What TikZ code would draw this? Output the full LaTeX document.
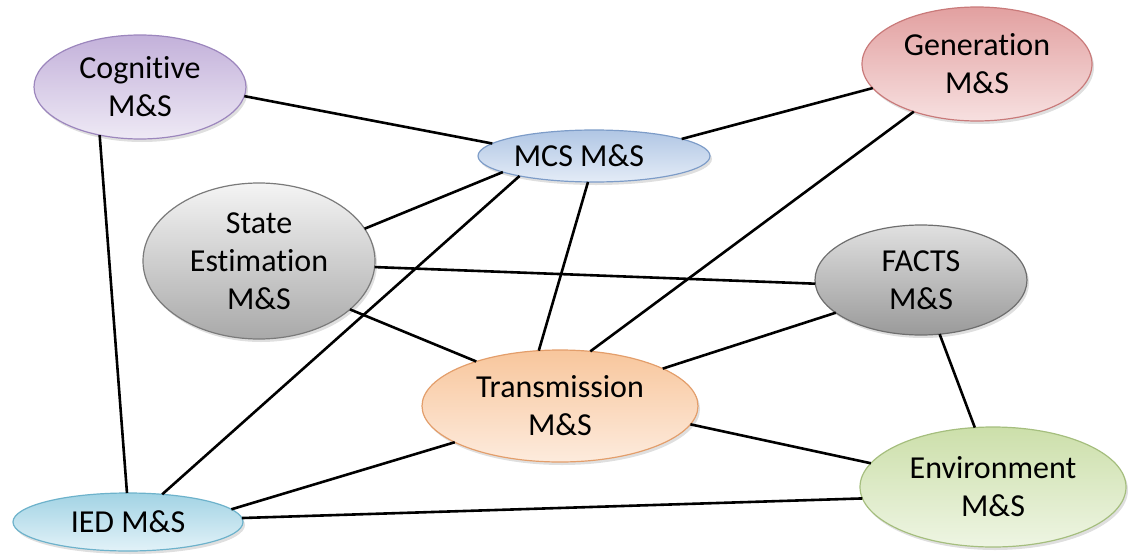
\documentclass[tikz,border=0pt]{standalone}
\usepackage{fontspec}
\setmainfont[Ligatures=NoCommon]{Carlito}
\usetikzlibrary{shapes.geometric,shadows}
\definecolor{cogB}{HTML}{9C86BD}\definecolor{cogT}{HTML}{C3B1DA}\definecolor{cogL}{HTML}{EEE9F5}
\definecolor{mcsB}{HTML}{7D9CC8}\definecolor{mcsT}{HTML}{B0C6E4}\definecolor{mcsL}{HTML}{E4ECF7}
\definecolor{genB}{HTML}{C97A7A}\definecolor{genT}{HTML}{E2A0A0}\definecolor{genL}{HTML}{F7E0E0}
\definecolor{staB}{HTML}{7A7A7A}\definecolor{staT}{HTML}{F4F4F4}\definecolor{staL}{HTML}{A9A9A9}
\definecolor{facB}{HTML}{6E6E6E}\definecolor{facT}{HTML}{E0E0E0}\definecolor{facL}{HTML}{9A9A9A}
\definecolor{traB}{HTML}{E39E6B}\definecolor{traT}{HTML}{F8C69C}\definecolor{traL}{HTML}{FDEBDD}
\definecolor{envB}{HTML}{A5BE7E}\definecolor{envT}{HTML}{CCDFAA}\definecolor{envL}{HTML}{EEF5E3}
\definecolor{iedB}{HTML}{6DB2CB}\definecolor{iedT}{HTML}{A2D3E4}\definecolor{iedL}{HTML}{E2F2F8}
\tikzset{
  ell/.style={ellipse, inner sep=0pt, outer sep=0pt, line width=1.2pt, align=center,
    font=\fontsize{32}{38}\selectfont,
    drop shadow={shadow xshift=2pt, shadow yshift=-3pt, opacity=0.25}},
  link/.style={line width=2.6pt, black}
}
\begin{document}
\begin{tikzpicture}[x=1pt,y=-1pt]
\useasboundingbox (0,0) rectangle (1132,554);
% nodes
\node[ell, draw=cogB, top color=cogT, bottom color=cogL, minimum width=212pt, minimum height=104pt] (cog) at (140,87) {Cognitive\\M\&S};
\node[ell, draw=mcsB, top color=mcsT, bottom color=mcsL, minimum width=232pt, minimum height=52pt] (mcs) at (594,156) {\hspace*{-30pt}MCS M\&S};
\node[ell, draw=genB, top color=genT, bottom color=genL, minimum width=230pt, minimum height=114pt] (gen) at (977,64) {Generation\\M\&S};
\node[ell, draw=staB, top color=staT, bottom color=staL, minimum width=232pt, minimum height=156pt] (sta) at (259,261) {State\\Estimation\\M\&S};
\node[ell, draw=facB, top color=facT, bottom color=facL, minimum width=212pt, minimum height=110pt] (fac) at (921,280) {FACTS\\M\&S};
\node[ell, draw=traB, top color=traT, bottom color=traL, minimum width=276pt, minimum height=112pt] (tra) at (560,406) {Transmission\\M\&S};
\node[ell, draw=envB, top color=envT, bottom color=envL, minimum width=266pt, minimum height=120pt] (env) at (993,487) {Environment\\M\&S};
\node[ell, draw=iedB, top color=iedT, bottom color=iedL, minimum width=230pt, minimum height=58pt] (ied) at (128,522) {IED M\&S};
% links
\draw[link] (cog.-5.4) -- (mcs.173.1);
\draw[link] (mcs.11.2) -- (gen.-167.6);
\draw[link] (cog.-130) -- (ied.92.9);
\draw[link] (sta.17) -- (mcs.190.2);
\draw[link] (sta.-3.5) -- (fac.182.2);
\draw[link] (sta.-28.5) -- (tra.152.7);
\draw[link] (mcs.-103) -- (tra.111.2);
\draw[link] (mcs.-165.3) -- (ied.39.3);
\draw[link] (gen.-143) -- (tra.61.4);
\draw[link] (fac.-159.5) -- (tra.20.5);
\draw[link] (fac.-71) -- (env.107);
\draw[link] (tra.-8.2) -- (env.169.3);
\draw[link] (tra.-161.3) -- (ied.7.5);
\draw[link] (ied.2) -- (env.-175.6);
\end{tikzpicture}
\end{document}
